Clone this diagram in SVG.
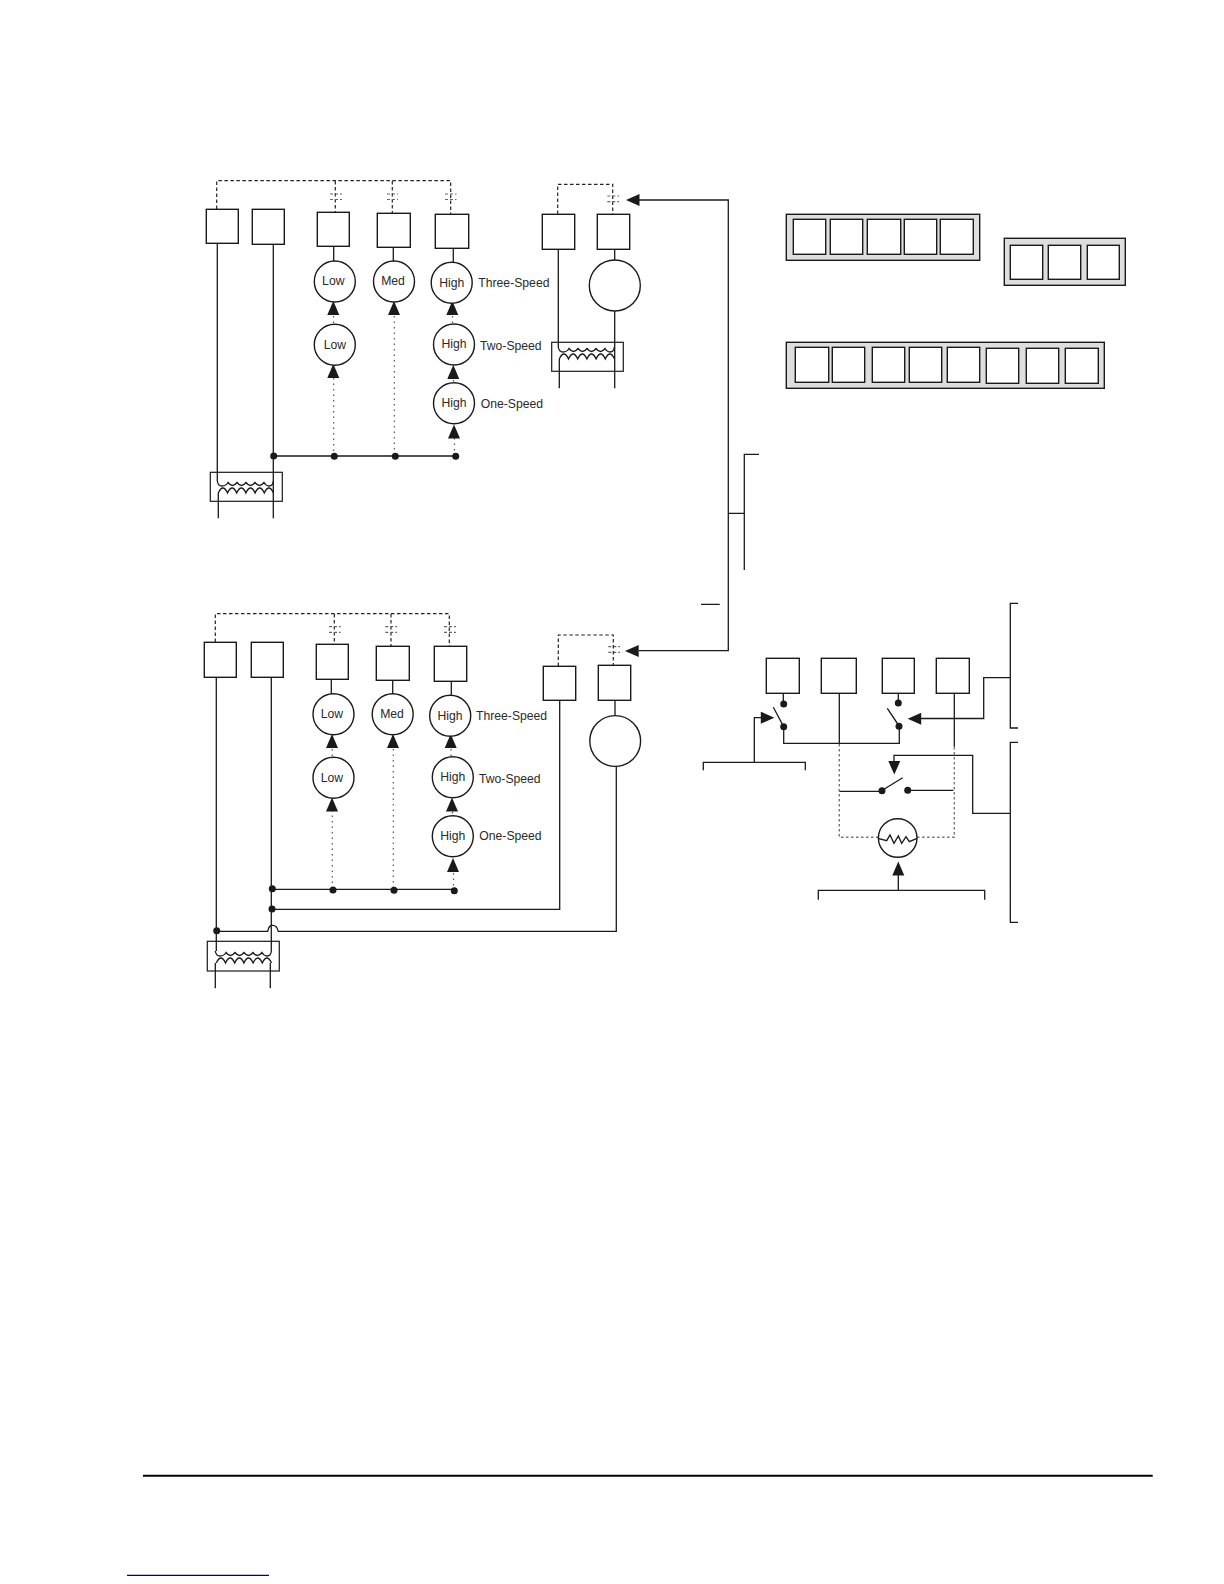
<svg xmlns="http://www.w3.org/2000/svg" width="1224" height="1584" viewBox="0 0 1224 1584">
<style>
text{font-family:"Liberation Sans",Arial,sans-serif;font-size:12.2px;fill:#2a2a2a}
.c{text-anchor:middle;dominant-baseline:central}
.l{dominant-baseline:central}
.b,.n{fill:#fff;stroke:#1a1a1a;stroke-width:1.4}
.p{fill:#dedede;stroke:#1a1a1a;stroke-width:1.4}
.w{fill:none;stroke:#1a1a1a;stroke-width:1.3}
.g{fill:none;stroke:#222;stroke-width:1.2;stroke-dasharray:3.5 2.5}
.gc{fill:none;stroke:#666;stroke-width:1.2;stroke-dasharray:3 2}
.d{fill:none;stroke:#555;stroke-width:1.2;stroke-dasharray:1.5 4}
.gd{fill:none;stroke:#777;stroke-width:1.4;stroke-dasharray:2.5 2.5}
.k{fill:#1a1a1a}
.r{fill:none;stroke:#1a1a1a;stroke-width:1.2}
</style>
<defs>
<path id="ah" class="k" d="M0 0l6 14h-12z"/>
<circle id="dot" class="k" r="3.5"/>
<path id="windings" class="w" d="M0 0Q.7 5 4.700 5Q8.700 5 10.700 1.500q4.500 6 9 0q4.500 6 9 0q4.500 6 9 0q4.500 6 9 0Q48.700 5 51.700 5Q55.700 5 56 0M1 12q4.600 -10 9.200 0q4.600 -10 9.200 0q4.600 -10 9.200 0q4.600 -10 9.200 0q4.600 -10 9.200 0q4.600 -10 9.200 0"/>
</defs>
<rect width="1224" height="1584" fill="#fff"/>
<g id="connectors">
<!-- top left diagram -->
<path class="g" d="M216.700 209V180.700H450.700V214M335.300 181V212M392.300 181V213"/>
<path class="gc" d="M330 194H342M330 199.500H342M387 194H398M387 199.500H398M445 194H456.500M445 199.500H456.500"/>
<path class="w" d="M217.300 243V481M273.300 244V518.300M218.300 493V518.300M273.300 456H455.700M333.700 246V261M393.300 247V261M453.300 249V262"/>
<path class="d" d="M333.700 378V456M394.300 316V456M454.500 438V456M333.500 316V324M452.500 316V324M453.500 380V383"/>
<!-- top right -->
<path class="g" d="M557.700 214V184.300H612.700V214"/>
<path class="gc" d="M607.300 196H619M607.300 201.700H619"/>
<path class="w" d="M558.300 249V347M614.700 249.300V260M614.700 311V388.300M559.300 359V388.300"/>
<!-- centre trunk -->
<path class="w" d="M639 200H728.300V650.700H638.700M728.300 513.300H744.300M759 454.300H744.300V570M701 604.400H719.700"/>
<!-- bottom left diagram -->
<path class="g" d="M215.300 642V613.700H449.300V646M334.300 614V644M391 614V646"/>
<path class="gc" d="M329 626.700H340.700M329 632.300H340.700M385.300 626.700H397M385.300 632.300H397M444 626.700H456M444 632.300H456M608.300 646.700H620M608.300 652.300H620"/>
<path class="g" d="M558.300 666V635H613.300V665"/>
<path class="w" d="M216.300 677V951M271.300 677V951M215.300 963V988.300M270.300 963V988.300M271.700 889.300H454.300M272 909.300H559.700V700.300M216.700 931.300H267.700C269 925 271 925 272.700 925.300C275 925.300 277 926 278.300 931.300H616.300V766.300M615 700V715.700M331.300 679V693.700M392.700 680V693.700M451.300 681V695"/>
<path class="d" d="M332.300 810V889M393.300 749V889M453.500 873V889M332.300 749V757M451 749V757M452.500 812V816"/>
<!-- switches -->
<path class="w" d="M783.300 693V704M773.300 707.300L783.700 726.700V743.300H899.300V726.300L887.300 708.300M898.300 693V703M839.300 693V743.300M954.300 693V746.700M839.300 791.300H882M884.300 789L902.700 777.700M907.700 790.300H953.300"/>
<path class="gd" d="M839.300 744V837.300H878M954.300 747V837.300H916.700"/>
<path class="w" d="M1018 603.300H1010.300V728H1018M1018 742.300H1010.300V922.300H1018M1010.300 677.700H983.700V718.500H921M1010.300 813.300H972.700V755.300H894V761M761.300 717.700H754.300V762.300M703.300 770.300V762.300H805.300V770.300M898.300 875V890.300M818.300 899.700V890.300H984.700V899.700"/>
<!-- arrowheads -->
<use href="#ah" x="333.300" y="301"/><use href="#ah" x="333.300" y="364"/><use href="#ah" x="394" y="301"/><use href="#ah" x="452.300" y="301"/><use href="#ah" x="453.300" y="365"/><use href="#ah" x="454" y="424.500"/>
<use href="#ah" x="332" y="734"/><use href="#ah" x="332" y="797.500"/><use href="#ah" x="393" y="734"/><use href="#ah" x="450.700" y="734"/><use href="#ah" x="452" y="797.500"/><use href="#ah" x="453" y="858"/>
<use href="#ah" x="898.300" y="861.500"/>
<path class="k" d="M626 200l13.500-6v12zM625 651l13.700-6v12zM774.300 717.700l-13.500-6v12zM907.700 718.700l13.500-6v12zM894.300 774.500l-6-13.500h12z"/>
<!-- junction dots -->
<use href="#dot" x="273.700" y="456"/><use href="#dot" x="334.300" y="456.200"/><use href="#dot" x="395.300" y="456.200"/><use href="#dot" x="455.700" y="456.300"/>
<use href="#dot" x="272.300" y="888.700"/><use href="#dot" x="333" y="890"/><use href="#dot" x="394" y="890.200"/><use href="#dot" x="454.300" y="890.700"/><use href="#dot" x="272" y="909"/><use href="#dot" x="216.700" y="930.700"/>
<use href="#dot" x="783.700" y="704"/><use href="#dot" x="783.700" y="726.700"/><use href="#dot" x="898.300" y="703"/><use href="#dot" x="899" y="726.300"/><use href="#dot" x="882" y="790.700"/><use href="#dot" x="907.700" y="790.300"/>
</g>
<g id="rule"><path d="M143 1475.700H1152.700" stroke="#000" stroke-width="2" fill="none"/><path d="M127 1575.300H269" stroke="#000080" stroke-width="1.300" fill="none"/></g>
<g id="top-boxes">
<rect id="t1" class="b" x="206.300" y="209.300" width="32" height="34"/>
<rect id="t2" class="b" x="252.300" y="209.300" width="32" height="35"/>
<rect id="t3" class="b" x="317.300" y="212.300" width="32" height="34"/>
<rect id="t4" class="b" x="377.300" y="213.300" width="33" height="34"/>
<rect id="t5" class="b" x="435.300" y="214.300" width="33.400" height="34"/>
<rect id="t6" class="b" x="542.300" y="214.300" width="32.400" height="35"/>
<rect id="t7" class="b" x="597.300" y="214.300" width="32.400" height="35"/>
</g>
<g id="top-coils">
<g id="transformer-a"><rect class="r" x="210.300" y="472.300" width="72" height="29"/><use href="#windings" x="217.300" y="481"/></g>
<g id="transformer-b"><rect class="r" x="551.700" y="342.300" width="71.600" height="29"/><use href="#windings" x="558.300" y="347"/></g>
<g id="transformer-c"><rect class="r" x="207.300" y="941.300" width="72" height="29.700"/><use href="#windings" x="215.300" y="951"/></g>
</g>
<g id="n-top">
<g id="low3a"><circle class="n" cx="334.800" cy="281.500" r="20.500"/><text class="c" x="333.300" y="281.300">Low</text></g>
<g id="med3a"><circle class="n" cx="394" cy="281.500" r="20.500"/><text class="c" x="393" y="281.300">Med</text></g>
<g id="high3a"><circle class="n" cx="451.700" cy="282.800" r="20.500"/><text class="c" x="451.700" y="282.700">High</text></g>
<g id="low2a"><circle class="n" cx="334.800" cy="344.700" r="20.500"/><text class="c" x="335" y="344.700">Low</text></g>
<g id="high2a"><circle class="n" cx="454" cy="344.500" r="20.500"/><text class="c" x="454" y="344">High</text></g>
<g id="high1a"><circle class="n" cx="454" cy="403.300" r="20.500"/><text class="c" x="454" y="403.300">High</text></g>
<g id="motor-a"><circle class="n" cx="614.800" cy="285.500" r="25.500"/></g>
<text class="l" x="478.300" y="282.700">Three-Speed</text>
<text class="l" x="480" y="345.700">Two-Speed</text>
<text class="l" x="480.700" y="404">One-Speed</text>
</g>
<g id="panels">
<g id="panel-1"><rect class="p" x="786.300" y="214.300" width="193.400" height="46"/>
<rect class="b" x="793.300" y="219.300" width="32.400" height="35"/><rect class="b" x="830.300" y="219.300" width="32.400" height="35"/><rect class="b" x="867.300" y="219.300" width="33.400" height="35"/><rect class="b" x="904.300" y="219.300" width="32.400" height="35"/><rect class="b" x="940.300" y="219.300" width="33" height="35"/></g>
<g id="panel-2"><rect class="p" x="1004.300" y="238.300" width="121" height="47"/>
<rect class="b" x="1010.300" y="245.300" width="32.400" height="34"/><rect class="b" x="1048.300" y="245.300" width="32.400" height="34"/><rect class="b" x="1087.300" y="245.300" width="32" height="34"/></g>
<g id="panel-3"><rect class="p" x="786.300" y="342.300" width="318" height="46"/>
<rect class="b" x="795.300" y="347.300" width="33.400" height="35"/><rect class="b" x="832.300" y="347.300" width="32.400" height="35"/><rect class="b" x="872.300" y="347.300" width="32.400" height="35"/><rect class="b" x="909.300" y="347.300" width="32.400" height="35"/><rect class="b" x="947.300" y="347.300" width="32.400" height="35"/><rect class="b" x="986.300" y="348.300" width="32.400" height="35"/><rect class="b" x="1026.300" y="348.300" width="32.400" height="35"/><rect class="b" x="1065.300" y="348.300" width="33" height="35"/></g>
</g>
<g id="bottom-boxes">
<rect id="b1" class="b" x="204.300" y="642.300" width="32" height="35"/>
<rect id="b2" class="b" x="251.300" y="642.300" width="32" height="35"/>
<rect id="b3" class="b" x="316.300" y="644.300" width="32" height="35"/>
<rect id="b4" class="b" x="376.300" y="646.300" width="33" height="34"/>
<rect id="b5" class="b" x="434.300" y="646.300" width="32.400" height="35"/>
<rect id="b6" class="b" x="543.300" y="666.300" width="32.400" height="34"/>
<rect id="b7" class="b" x="598.300" y="665.300" width="32.400" height="35"/>
</g>
<g id="n-bottom">
<g id="low3b"><circle class="n" cx="333.500" cy="714.200" r="20.500"/><text class="c" x="332" y="714">Low</text></g>
<g id="med3b"><circle class="n" cx="392.700" cy="714.200" r="20.500"/><text class="c" x="392" y="714">Med</text></g>
<g id="high3b"><circle class="n" cx="450.200" cy="715.800" r="20.500"/><text class="c" x="450" y="715.500">High</text></g>
<g id="low2b"><circle class="n" cx="333.500" cy="777.800" r="20.500"/><text class="c" x="332" y="778">Low</text></g>
<g id="high2b"><circle class="n" cx="452.800" cy="777.200" r="20.500"/><text class="c" x="452.800" y="777">High</text></g>
<g id="high1b"><circle class="n" cx="452.800" cy="836.200" r="20.500"/><text class="c" x="452.800" y="836">High</text></g>
<g id="motor-b"><circle class="n" cx="615.200" cy="741" r="25.400"/></g>
<text class="l" x="476" y="716.300">Three-Speed</text>
<text class="l" x="479" y="779">Two-Speed</text>
<text class="l" x="479.300" y="836">One-Speed</text>
</g>
<g id="switch-boxes">
<rect id="s1" class="b" x="766.300" y="658.300" width="33" height="35"/>
<rect id="s2" class="b" x="821.300" y="658.300" width="35" height="35"/>
<rect id="s3" class="b" x="882.300" y="658.300" width="32" height="35"/>
<rect id="s4" class="b" x="936.300" y="658.300" width="33" height="35"/>
<g id="thermistor"><circle class="n" cx="897.700" cy="838" r="19.300"/><path class="w" d="M878 838.300L886.700 840.700L890 835L894 843.300L898.300 836L901.700 843.300L906 836.700L909.300 841.700L917 838.300"/></g>
</g>
</svg>
